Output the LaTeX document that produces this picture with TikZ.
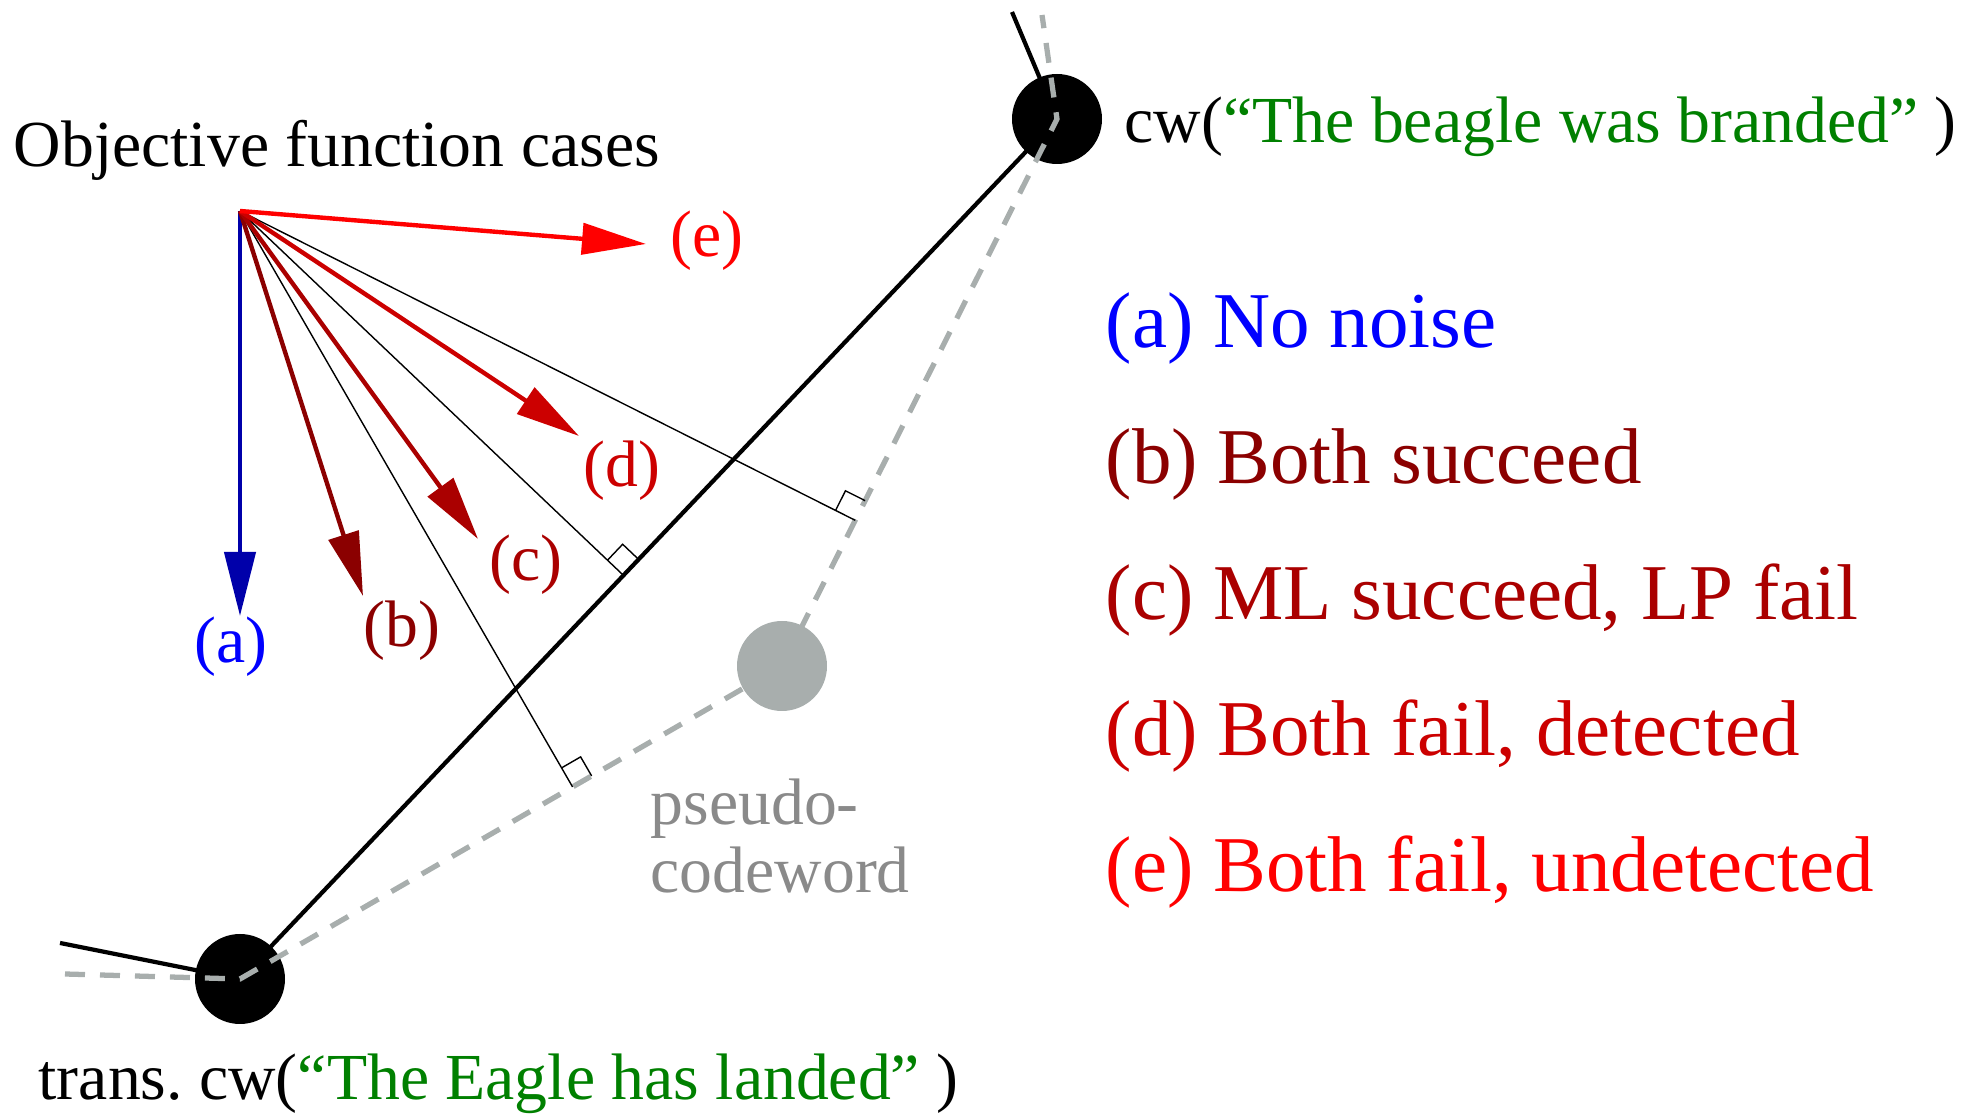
\documentclass[tikz,border=0pt]{standalone}
\usepackage{fontspec}
\setmainfont{Liberation Serif}
\usepackage{xcolor}
\usetikzlibrary{calc, arrows.meta, positioning}

\definecolor{colA}{RGB}{0,0,255}
\definecolor{colAarr}{RGB}{0,0,170}
\definecolor{colB}{RGB}{139,0,0}
\definecolor{colC}{RGB}{170,0,0}
\definecolor{colD}{RGB}{204,0,0}
\definecolor{colE}{RGB}{255,0,0}
\definecolor{wordgreen}{RGB}{0,128,0}
\definecolor{pseudo}{RGB}{168,174,173}
\definecolor{pseudotxt}{RGB}{138,138,138}

% right angle mark: foot, point on the normal, point along the line
\newcommand{\perpmark}[3]{%
  \path ($(#1)!2.2mm!(#2)$) coordinate (rmA) ($(#1)!2.2mm!(#3)$) coordinate (rmB);
  \draw[proj] (rmA) -- ($(rmA)+(rmB)-(#1)$) -- (rmB);
}

\begin{document}
\begin{tikzpicture}[
      font        = \fontsize{18.7pt}{22pt}\selectfont,
      txt/.style  = {inner sep=0pt, anchor=base west},
      cw/.style   = {circle, fill=black, inner sep=0pt, minimum size=9mm},
      pcw/.style  = {circle, fill=pseudo, inner sep=0pt, minimum size=9mm},
      polyline/.style = {line width=1.2pt},
      dedge/.style    = {line width=1.5pt, pseudo, dash pattern=on 2mm off 1.5mm},
      proj/.style = {line width=0.4pt},
      vec/.style  = {-{Triangle[length=6.4mm, width=3.1mm]}, line width=1.25pt},
      leg/.style  = {inner sep=0pt, anchor=base west, font=\fontsize{22.5pt}{27pt}\selectfont}
   ]
   \useasboundingbox (0,0) rectangle (19.71,11.14);

   % codewords and pseudo-codeword
   \coordinate (botc)  at (2.40,1.35);
   \coordinate (topc)  at (10.57,9.95);
   \coordinate (pcwc)  at (7.82,4.48);
   \coordinate (botend)  at (0.60,1.71);
   \coordinate (topend)  at (10.12,11.02);
   \coordinate (botdend) at (0.65,1.40);
   \coordinate (topdend) at (10.42,10.99);

   \draw[polyline] (botend) -- (botc) -- (topc) -- (topend);
   \node[cw] (bot) at (botc) {};
   \node[cw] (top) at (topc) {};
   \draw[dedge] (botdend) -- (botc) -- (pcwc) -- (topc) -- (topdend);
   \node[pcw] (pcw) at (pcwc) {};

   % origin of the objective vectors and its projections
   \coordinate (O) at (2.40,9.03);
   \coordinate (f1) at ($(botc)!(O)!(pcwc)$);
   \coordinate (f2) at ($(botc)!(O)!(topc)$);
   \coordinate (f3) at ($(pcwc)!(O)!(topc)$);
   \draw[proj] (O) -- (f1);
   \draw[proj] (O) -- (f2);
   \draw[proj] (O) -- (f3);
   \perpmark{f1}{O}{pcwc}
   \perpmark{f2}{O}{topc}
   \perpmark{f3}{O}{topc}

   % cases
   \coordinate (tipA) at (2.40,4.98);
   \coordinate (tipB) at (3.63,5.18);
   \coordinate (tipC) at (4.78,5.75);
   \coordinate (tipD) at (5.79,6.78);
   \coordinate (tipE) at (6.46,8.70);
   \draw[vec, colAarr] (O) -- (tipA);
   \draw[vec, colB] (O) -- (tipB);
   \draw[vec, colC] (O) -- (tipC);
   \draw[vec, colD] (O) -- (tipD);
   \draw[vec, colE] (O) -- (tipE);
   \node[colA] (labA) at (2.31,4.67) {(a)};
   \node[colB] (labB) at (4.02,4.83) {(b)};
   \node[colC] (labC) at (5.26,5.49) {(c)};
   \node[colD] (labD) at (6.22,6.43) {(d)};
   \node[colE] (labE) at (7.07,8.73) {(e)};

   \node[txt] (title) at (0.13,9.47) {Objective function cases};
   \node[txt] (topname) at (11.24,9.71) {cw(\textcolor{wordgreen}{“The beagle was branded”} )};
   \node[txt] (botname) at (0.38,0.14) {trans.\ cw(\textcolor{wordgreen}{“The Eagle has landed”} )};
   \node[inner sep=0pt, anchor=north west, align=left, pseudotxt,
         font=\fontsize{18.7pt}{19.5pt}\selectfont] (pcwname) at (6.50,3.36) {pseudo-\\codeword};

   % legend
   \node[leg, colA] (legA) at (11.05,7.66) {(a) No noise};
   \node[leg, colB] (legB) at (11.05,6.30) {(b) Both succeed};
   \node[leg, colC] (legC) at (11.05,4.94) {(c) ML succeed, LP fail};
   \node[leg, colD] (legD) at (11.05,3.58) {(d) Both fail, detected};
   \node[leg, colE] (legE) at (11.05,2.22) {(e) Both fail, undetected};
\end{tikzpicture}
\end{document}
